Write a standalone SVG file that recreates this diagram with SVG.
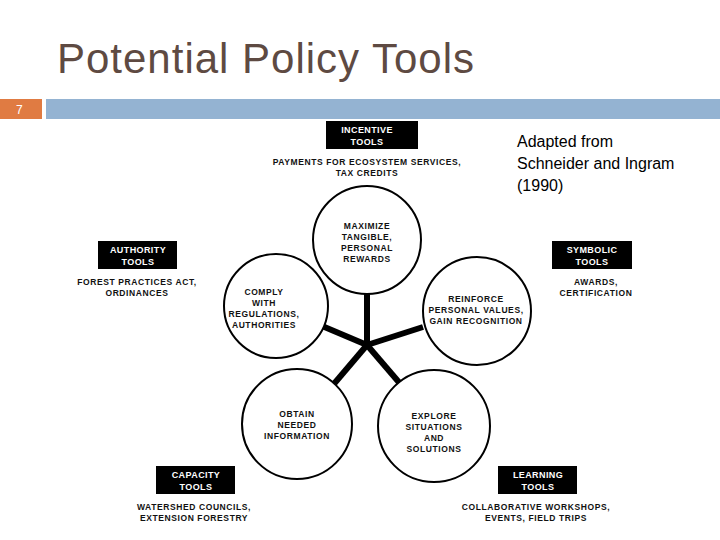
<svg xmlns="http://www.w3.org/2000/svg" width="720" height="540" viewBox="0 0 720 540">
<style>
.b{fill:#000}
.lb{font-family:"Liberation Sans",Arial,sans-serif;font-weight:bold;font-size:9px;letter-spacing:0.4px;fill:#fff;text-anchor:middle}
.t{font-family:"Liberation Sans",Arial,sans-serif;font-weight:bold;font-size:8.5px;letter-spacing:0.6px;fill:#111;text-anchor:middle}
.c{fill:#fff;stroke:#000;stroke-width:2}
.sp{stroke:#000;stroke-width:6;stroke-linecap:butt}
</style>
<rect width="720" height="540" fill="#fff"/>
<text x="57" y="73" font-family="Liberation Sans,Arial,sans-serif" font-size="42" textLength="417" fill="#5e4a42">Potential Policy Tools</text>
<rect x="0" y="99" width="42" height="20" fill="#e07b42"/>
<text x="16" y="114" font-family="Liberation Sans,Arial,sans-serif" font-size="12" fill="#fff">7</text>
<rect x="46" y="99" width="674" height="20" fill="#94b3d2"/>
<g id="connectors">
<line class="sp" x1="367" y1="345" x2="367" y2="293"/>
<line class="sp" x1="367" y1="345" x2="315" y2="323"/>
<line class="sp" x1="367" y1="345" x2="423" y2="327"/>
<line class="sp" x1="367" y1="345" x2="333" y2="385"/>
<line class="sp" x1="367" y1="345" x2="403" y2="387"/>
</g>
<g id="c-top"><circle class="c" cx="367" cy="240" r="54"/>
<text class="t" x="367" y="229">MAXIMIZE</text><text class="t" x="367" y="240">TANGIBLE,</text><text class="t" x="367" y="251">PERSONAL</text><text class="t" x="367" y="262">REWARDS</text></g>
<g id="c-left"><circle class="c" cx="276" cy="306" r="52"/>
<text class="t" x="264" y="295">COMPLY</text><text class="t" x="264" y="306">WITH</text><text class="t" x="264" y="317">REGULATIONS,</text><text class="t" x="264" y="328">AUTHORITIES</text></g>
<g id="c-right"><circle class="c" cx="477" cy="311" r="54"/>
<text class="t" x="476" y="302">REINFORCE</text><text class="t" x="476" y="313">PERSONAL VALUES,</text><text class="t" x="476" y="324">GAIN RECOGNITION</text></g>
<g id="c-bl"><circle class="c" cx="297" cy="424" r="55"/>
<text class="t" x="297" y="417">OBTAIN</text><text class="t" x="297" y="428">NEEDED</text><text class="t" x="297" y="439">INFORMATION</text></g>
<g id="c-br"><circle class="c" cx="434" cy="426" r="56"/>
<text class="t" x="434" y="419">EXPLORE</text><text class="t" x="434" y="430">SITUATIONS</text><text class="t" x="434" y="441">AND</text><text class="t" x="434" y="452">SOLUTIONS</text></g>
<g id="incentive"><rect class="b" x="326" y="121" width="92" height="28"/>
<text class="lb" x="367" y="133">INCENTIVE</text><text class="lb" x="367" y="145">TOOLS</text>
<text class="t" x="367" y="165">PAYMENTS FOR ECOSYSTEM SERVICES,</text><text class="t" x="367" y="176">TAX CREDITS</text></g>
<g id="authority"><rect class="b" x="98" y="241" width="79" height="28"/>
<text class="lb" x="138" y="253">AUTHORITY</text><text class="lb" x="138" y="265">TOOLS</text>
<text class="t" x="137" y="285">FOREST PRACTICES ACT,</text><text class="t" x="137" y="296">ORDINANCES</text></g>
<g id="symbolic"><rect class="b" x="552" y="241" width="80" height="28"/>
<text class="lb" x="592" y="253">SYMBOLIC</text><text class="lb" x="592" y="265">TOOLS</text>
<text class="t" x="596" y="285">AWARDS,</text><text class="t" x="596" y="296">CERTIFICATION</text></g>
<g id="capacity"><rect class="b" x="156" y="466" width="79" height="28"/>
<text class="lb" x="196" y="478">CAPACITY</text><text class="lb" x="196" y="490">TOOLS</text>
<text class="t" x="194" y="510">WATERSHED COUNCILS,</text><text class="t" x="194" y="521">EXTENSION FORESTRY</text></g>
<g id="learning"><rect class="b" x="498" y="466" width="79" height="28"/>
<text class="lb" x="538" y="478">LEARNING</text><text class="lb" x="538" y="490">TOOLS</text>
<text class="t" x="536" y="510">COLLABORATIVE WORKSHOPS,</text><text class="t" x="536" y="521">EVENTS, FIELD TRIPS</text></g>
<g font-family="Liberation Sans,Arial,sans-serif" font-size="16" fill="#000">
<text x="517" y="147">Adapted from</text><text x="517" y="169">Schneider and Ingram</text><text x="517" y="191">(1990)</text></g>
</svg>
